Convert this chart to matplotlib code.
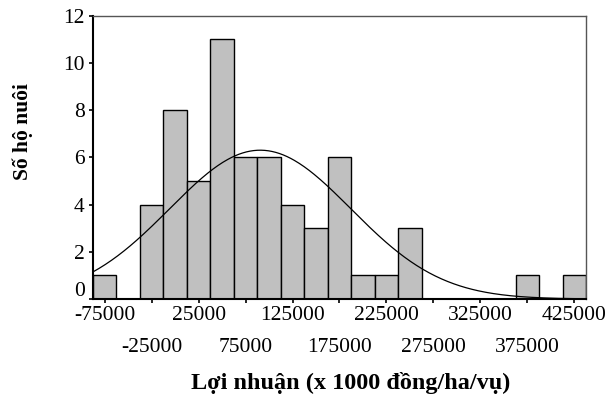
import matplotlib
matplotlib.use("Agg")
import matplotlib.pyplot as plt
import matplotlib.transforms as mtransforms
import numpy as np

# histogram bins (centres, width 25000) and counts
bin_centers = [-75000, -50000, -25000, 0, 25000, 50000, 75000, 100000, 125000,
               150000, 175000, 200000, 225000, 250000, 275000, 300000, 325000,
               350000, 375000, 400000, 425000]
counts = [1, 0, 4, 8, 5, 11, 6, 6, 4, 3, 6, 1, 1, 3, 0, 0, 0, 0, 1, 0, 1]
bin_width = 25000

# fitted normal curve
fit_mean = 90574
fit_std = 96500

row1_ticks = [-75000, 25000, 125000, 225000, 325000, 425000]
row2_ticks = [-25000, 75000, 175000, 275000, 375000]
y_ticks = [0, 2, 4, 6, 8, 10, 12]

plt.rcParams['font.family'] = ['Liberation Serif', 'DejaVu Serif']

fig = plt.figure(figsize=(6.09, 3.94), dpi=100)
ax = fig.add_axes([0.1527, 0.2411, 0.8095, 0.7189])

ax.bar(bin_centers, counts, width=bin_width, color='#c0c0c0',
       edgecolor='black', linewidth=1.0)

xs = np.linspace(-87500, 437500, 400)
n = sum(counts)
ys = n * bin_width / (fit_std * np.sqrt(2 * np.pi)) * \
    np.exp(-0.5 * ((xs - fit_mean) / fit_std) ** 2)
ax.plot(xs, ys, color='black', linewidth=0.9)

ax.set_xlim(-87500, 437500)
ax.set_ylim(0, 12)

ax.set_xticks(row1_ticks)
ax.set_xticklabels([str(t) for t in row1_ticks])
ax.set_xticks(row2_ticks, minor=True)
ax.set_xticklabels([str(t) for t in row2_ticks], minor=True)
ax.tick_params(axis='x', which='major', length=3, width=1.2, pad=2,
               labelsize=15.5, direction='out')
ax.tick_params(axis='x', which='minor', length=3, width=1.2, pad=25,
               labelsize=15.5, direction='out')
ax.set_yticks(y_ticks)
ax.tick_params(axis='y', length=3, width=1.2, pad=3, labelsize=15.5)

# the "0" label sits a little above its tick, as in the original
lab0 = ax.get_yticklabels()[0]
lab0.set_transform(lab0.get_transform() +
                   mtransforms.ScaledTranslation(0, 10 / 100, fig.dpi_scale_trans))

for side in ['left', 'bottom']:
    ax.spines[side].set_linewidth(1.5)
    ax.spines[side].set_color('black')
for side in ['top', 'right']:
    ax.spines[side].set_linewidth(1.0)
    ax.spines[side].set_color('#555555')

ax.set_xlabel('Lợi nhuận (x 1000 đồng/ha/vụ)', fontsize=17.5,
              fontweight='bold')
ax.xaxis.set_label_coords(0.523, -0.258)
ax.set_ylabel('Số hộ nuôi', fontsize=15.5, fontweight='bold')
ax.yaxis.set_label_coords(-0.122, 0.59)

fig.savefig('out.png', dpi=100)
